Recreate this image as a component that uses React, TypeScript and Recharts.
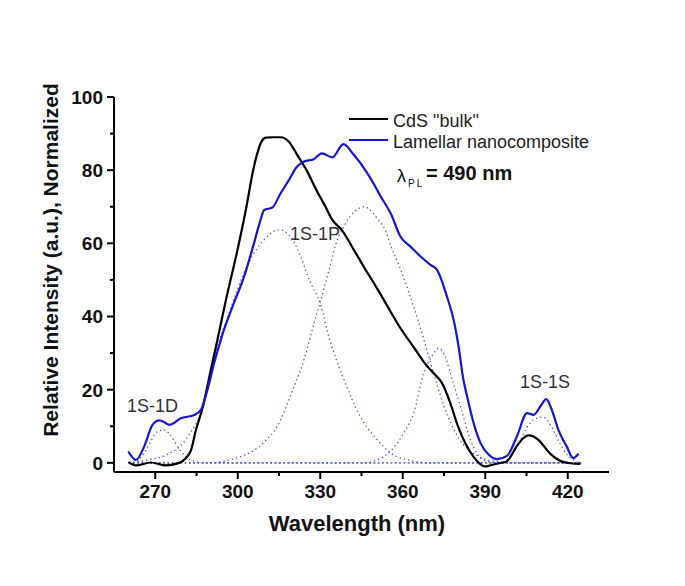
import React from 'react';
import { LineChart, Line, XAxis, YAxis } from 'recharts';

// CdS "bulk" excitation spectrum (black)
const bulkWavelength = [260.2, 263, 268.4, 273.9, 278.7, 281, 283, 284.8, 287.2, 290.2, 292.6, 295.7, 299.9, 302.9, 305.9, 308.3, 310.2, 313, 315.6, 318.6, 321.6, 325.3, 328.3, 331.9, 334.4, 338, 342, 346, 350, 354, 359, 364, 368.8, 371.5, 374.3, 377.3, 379.7, 382.7, 385.7, 389.9, 393.6, 397.8, 401.4, 403.5, 405.7, 407.5, 409.3, 413.5, 417.7, 421, 424.6];
const bulkIntensity = [0.2, -0.7, 0.1, -0.7, 0, 1.2, 3.5, 9, 15, 25.4, 33.6, 44.5, 58.2, 69, 81, 87.3, 88.9, 89, 89, 87.8, 84.2, 79.6, 75, 70, 66.4, 63.5, 58.5, 53.4, 48.5, 43.4, 37, 31.6, 26.5, 24.3, 21.8, 16.3, 10.8, 5.4, 1.7, -1, -0.3, 0.4, 4.5, 6.5, 7.5, 7.2, 6.3, 2.6, 0.4, -0.1, -0.3];

// Lamellar nanocomposite excitation spectrum (blue)
const lamellarWavelength = [260.2, 263, 266, 269, 271.5, 273.5, 275.1, 279.3, 284.2, 286.6, 289, 291.4, 294.4, 298.1, 302.3, 305.9, 308.3, 309.6, 312.6, 315.6, 318.6, 321.6, 324, 327.6, 330.6, 334.4, 338.4, 342.2, 347.1, 350.7, 352, 355.6, 359.2, 362.8, 366.5, 370.1, 372.5, 376.1, 378.5, 380.3, 382, 383.4, 385.8, 388.3, 391.3, 394.3, 397.9, 401.5, 405.2, 407.6, 410, 412.2, 414.2, 416.6, 419.6, 422, 423.9];
const lamellarIntensity = [3.1, 0.8, 4.5, 10.4, 11.6, 11, 10.4, 12.2, 13.1, 14.5, 20, 27.2, 35, 42.7, 50.9, 60, 66.4, 69.1, 69.8, 73.7, 77.3, 81, 82.3, 83, 84.6, 83.5, 87.1, 84.2, 79.2, 74.6, 72.8, 68.2, 61.8, 59.1, 56.4, 54.1, 52.7, 45.4, 39.1, 31.8, 23, 18.2, 10.8, 5.4, 2.2, 1, 1.9, 7.2, 13.6, 13.1, 15.4, 17.4, 14.5, 9, 4.5, 1.3, 2.5];

// fitted components (dotted)
const fit1DWavelength = [262, 263.6, 267, 270.9, 273.3, 276, 279, 283, 288, 425];
const fit1DIntensity = [0, 0.5, 4, 8.6, 9, 7, 3.5, 0.8, 0, 0];

const fit1PWavelength = [262, 268, 274, 279, 283, 286.6, 289, 292, 296.4, 303.5, 309.6, 315, 319.2, 322.9, 326, 330, 333.3, 338.2, 344.6, 350.7, 356, 362, 370, 425];
const fit1PIntensity = [0.2, 0.9, 2.2, 4.5, 8.5, 13.6, 20, 30, 40, 54, 61, 63.7, 61.8, 56.4, 50, 43.5, 34, 23.6, 12.6, 6.3, 2.5, 0.8, 0, 0];

const fitCWavelength = [262, 290, 295, 300, 305, 310, 314.4, 319, 324, 327.7, 330, 333.3, 336.2, 338.2, 341, 343.5, 346, 349, 351, 353.4, 355.8, 358.3, 361.9, 365.5, 369.1, 372, 375, 378, 381, 385, 390, 395, 400, 425];
const fitCIntensity = [0, 0, 0.5, 1.4, 3, 6, 10, 18, 28, 38, 44, 53, 61, 64, 67.5, 69.3, 70, 68.5, 66.5, 64, 59, 54.6, 47.3, 39.1, 30, 22.5, 15.5, 10, 6, 3, 1, 0.3, 0, 0];

const fitDWavelength = [262, 345, 350.7, 355, 358, 361, 364, 367.6, 370.5, 373.1, 375.5, 377.3, 381, 384.6, 389.4, 395, 425];
const fitDIntensity = [0, 0, 0.8, 2.8, 5.4, 9, 13.6, 24.5, 29, 31.3, 29, 24.5, 15.4, 6.3, 0.8, 0, 0];

const fit1SWavelength = [262, 395, 399, 402, 405, 408, 411, 414, 417, 420, 425];
const fit1SIntensity = [0, 0, 1.5, 5, 9.5, 12, 12.5, 10, 5.5, 2, 0];

const xTicks = [270, 285, 300, 315, 330, 345, 360, 375, 390, 405, 420];
const yTicks = [0, 10, 20, 30, 40, 50, 60, 70, 80, 90, 100];

const FONT = '"Liberation Sans", Arial, Helvetica, sans-serif';
const DOT_COLOR = '#4a4ae6';

const toPoints = (xs: number[], ys: number[]) => xs.map((x, i) => ({ x, y: ys[i] }));

const XTick = (props: any) => {
  const { x, y, payload } = props;
  const major = payload.value % 30 === 0;
  return (
    <g>
      <line x1={x} y1={y} x2={x} y2={y + (major ? 7 : 4)} stroke="#000" strokeWidth={2} />
      {major && (
        <text x={x} y={y + 26} textAnchor="middle" fontFamily={FONT} fontWeight="bold" fontSize={19} fill="#111">
          {payload.value}
        </text>
      )}
    </g>
  );
};

const YTick = (props: any) => {
  const { x, y, payload } = props;
  const major = payload.value % 20 === 0;
  return (
    <g>
      <line x1={x - (major ? 7 : 4)} y1={y} x2={x} y2={y} stroke="#000" strokeWidth={2} />
      {major && (
        <text x={x - 11} y={y} dy="0.36em" textAnchor="end" fontFamily={FONT} fontWeight="bold" fontSize={19} fill="#111">
          {payload.value}
        </text>
      )}
    </g>
  );
};

const fits = [
  toPoints(fit1DWavelength, fit1DIntensity),
  toPoints(fit1PWavelength, fit1PIntensity),
  toPoints(fitCWavelength, fitCIntensity),
  toPoints(fitDWavelength, fitDIntensity),
  toPoints(fit1SWavelength, fit1SIntensity),
];

export default function App() {
  const bulk = toPoints(bulkWavelength, bulkIntensity);
  const lamellar = toPoints(lamellarWavelength, lamellarIntensity);
  return (
    <div style={{ width: 677, height: 570 }}>
      <LineChart width={677} height={570} margin={{ top: 89, right: 76, bottom: 46, left: 46 }}>
        <XAxis
          type="number"
          dataKey="x"
          domain={[255, 435]}
          ticks={xTicks}
          interval={0}
          allowDataOverflow
          height={60}
          tickSize={0}
          tickMargin={0}
          tickLine={false}
          axisLine={{ stroke: '#000', strokeWidth: 2 }}
          tick={<XTick />}
        />
        <XAxis xAxisId="top" orientation="top" type="number" domain={[255, 435]} height={0} tick={false} tickLine={false} axisLine={{ stroke: '#000', strokeWidth: 2 }} />
        <YAxis
          type="number"
          domain={[-2.5, 100]}
          ticks={yTicks}
          interval={0}
          allowDataOverflow
          width={60}
          tickSize={0}
          tickMargin={0}
          tickLine={false}
          axisLine={{ stroke: '#000', strokeWidth: 2 }}
          tick={<YTick />}
        />
        <YAxis yAxisId="right" orientation="right" type="number" domain={[-2.5, 100]} width={0} tick={false} tickLine={false} axisLine={{ stroke: '#000', strokeWidth: 2 }} />

        {fits.map((d, i) => (
          <Line
            key={i}
            data={d}
            dataKey="y"
            type="monotone"
            stroke={DOT_COLOR}
            strokeWidth={1.3}
            strokeDasharray="1.3 3"
            dot={false}
            activeDot={false}
            isAnimationActive={false}
          />
        ))}
        <Line data={bulk} dataKey="y" type="monotone" stroke="#000" strokeWidth={2.2} dot={false} activeDot={false} isAnimationActive={false} />
        <Line data={lamellar} dataKey="y" type="monotone" stroke="#1515d6" strokeWidth={2.2} dot={false} activeDot={false} isAnimationActive={false} />

        <g fontFamily={FONT}>
          <line x1={341} y1={111} x2={380} y2={111} stroke="#000" strokeWidth={2.2} />
          <text x={385} y={119} fontSize={18} fill="#222">CdS "bulk"</text>
          <line x1={341} y1={132} x2={380} y2={132} stroke="#1515d6" strokeWidth={2.2} />
          <text x={385} y={140} fontSize={18} fill="#222">Lamellar nanocomposite</text>
          <text x={389} y={174} fontSize={18} fill="#111">λ</text>
          <text x={400} y={179} fontSize={10} fill="#111" letterSpacing={2}>PL</text>
          <text x={418} y={172} fontSize={20} fontWeight="bold" fill="#111">= 490 nm</text>
          <text x={119} y={404} fontSize={18} fill="#333">1S-1D</text>
          <text x={282} y={232} fontSize={18} fill="#333">1S-1P</text>
          <text x={512} y={380} fontSize={18} fill="#333">1S-1S</text>
          <text x={349} y={523} fontSize={22} fontWeight="bold" textAnchor="middle" fill="#111">Wavelength (nm)</text>
          <text x={42} y={252} fontSize={21} fontWeight="bold" textAnchor="middle" dy="0.36em" fill="#111" transform="rotate(-90 42 252)">
            Relative Intensity (a.u.), Normalized
          </text>
        </g>
      </LineChart>
    </div>
  );
}
